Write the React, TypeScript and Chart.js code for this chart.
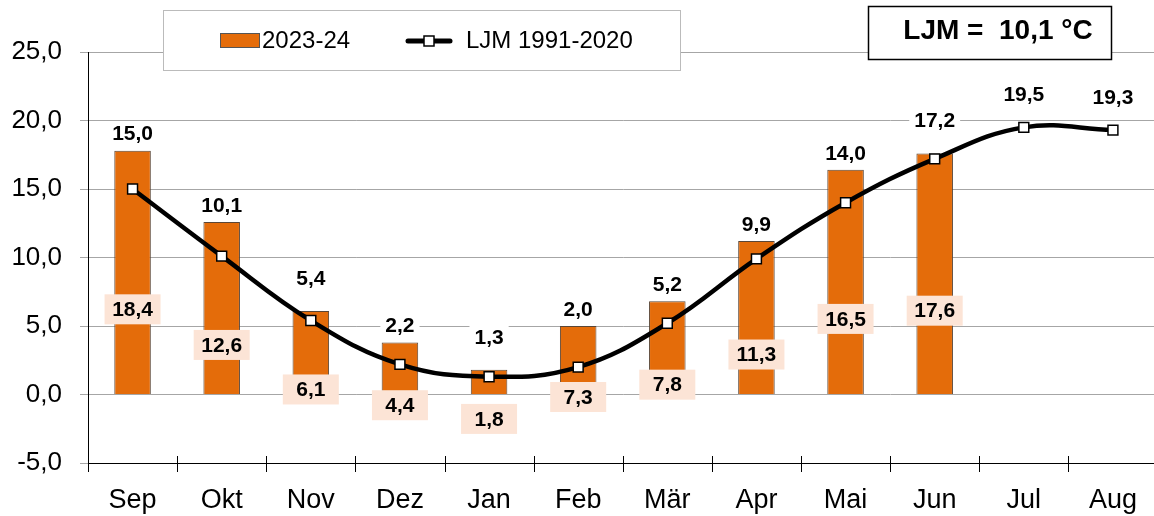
import React, { useEffect, useRef } from 'react';
import { Chart, registerables } from 'chart.js';

Chart.register(...registerables);

const months = ['Sep', 'Okt', 'Nov', 'Dez', 'Jan', 'Feb', 'Mär', 'Apr', 'Mai', 'Jun', 'Jul', 'Aug'];
const barValues: (number | null)[] = [17.8, 12.6, 6.1, 3.8, 1.8, 5.0, 6.8, 11.2, 16.4, 17.6, null, null];
const barLabelTexts = ['18,4', '12,6', '6,1', '4,4', '1,8', '7,3', '7,8', '11,3', '16,5', '17,6', '', ''];
const normalValues = [15.0, 10.1, 5.4, 2.2, 1.3, 2.0, 5.2, 9.9, 14.0, 17.2, 19.5, 19.3];
const yMin = -5;
const yMax = 25;
const yStep = 5;
const legendLabels = ['2023-24', 'LJM 1991-2020'];
const meanText = 'LJM =  10,1 °C';

const ORANGE = '#E46C0A';
const PEACH = '#FCE4D6';
const GRID = '#A6A6A6';
const FONT = '"Liberation Sans", Arial, sans-serif';

const fmt = (v: number) => v.toFixed(1).replace('.', ',');

const overlay = {
  id: 'overlay',
  afterDatasetsDraw(chart: any) {
    const ctx = chart.ctx;
    const xs = chart.scales.x;
    const area = chart.chartArea;
    ctx.save();
    ctx.strokeStyle = '#000';
    ctx.lineWidth = 1;
    const step = xs.getPixelForValue(1) - xs.getPixelForValue(0);
    for (let i = 0; i <= months.length; i++) {
      const px = Math.round(xs.getPixelForValue(0) - step / 2 + i * step) + 0.5;
      ctx.beginPath();
      ctx.moveTo(px, area.bottom - 7);
      ctx.lineTo(px, area.bottom + 9);
      ctx.stroke();
    }

    const barMeta = chart.getDatasetMeta(0);
    const lineMeta = chart.getDatasetMeta(1);
    ctx.font = `bold 21px ${FONT}`;
    ctx.textAlign = 'center';
    ctx.textBaseline = 'middle';

    barMeta.data.forEach((el: any, i: number) => {
      if (barValues[i] == null) return;
      const mid = (el.y + el.base) / 2;
      const cy = mid + 37;
      const w = 56;
      const h = 30;
      ctx.fillStyle = PEACH;
      ctx.fillRect(el.x - w / 2, cy - h / 2, w, h);
      ctx.fillStyle = '#000';
      ctx.fillText(barLabelTexts[i], el.x, cy + 1);
    });

    lineMeta.data.forEach((pt: any, i: number) => {
      let topPx = pt.y;
      let off = 33;
      if (barValues[i] != null) {
        const by = barMeta.data[i].y;
        topPx = Math.min(by, pt.y);
        off = pt.y - by < 15 ? 33 : 17;
      }
      const cy = topPx - off;
      const t = fmt(normalValues[i]);
      const w = ctx.measureText(t).width + 10;
      ctx.fillStyle = '#fff';
      ctx.fillRect(pt.x - w / 2, cy - 12, w, 24);
      ctx.fillStyle = '#000';
      ctx.fillText(t, pt.x, cy + 1);
    });
    ctx.restore();
  },
  afterDraw(chart: any) {
    const ctx = chart.ctx;
    ctx.save();
    ctx.fillStyle = '#fff';
    ctx.fillRect(163, 10, 517, 60);
    ctx.strokeStyle = '#BBBBBB';
    ctx.lineWidth = 1;
    ctx.strokeRect(163.5, 10.5, 517, 60);
    ctx.fillStyle = ORANGE;
    ctx.fillRect(220, 33, 39, 14);
    ctx.strokeStyle = '#555';
    ctx.strokeRect(220.5, 33.5, 39, 14);
    ctx.font = `24px ${FONT}`;
    ctx.textAlign = 'left';
    ctx.textBaseline = 'middle';
    ctx.fillStyle = '#000';
    ctx.fillText(legendLabels[0], 262, 41);
    ctx.strokeStyle = '#000';
    ctx.lineWidth = 5;
    ctx.lineCap = 'round';
    ctx.beginPath();
    ctx.moveTo(408, 41);
    ctx.lineTo(450, 41);
    ctx.stroke();
    ctx.lineCap = 'butt';
    ctx.fillStyle = '#fff';
    ctx.fillRect(424, 36, 10, 10);
    ctx.lineWidth = 1.5;
    ctx.strokeRect(424, 36, 10, 10);
    ctx.fillStyle = '#000';
    ctx.fillText(legendLabels[1], 466, 41);

    ctx.fillStyle = '#fff';
    ctx.fillRect(868, 6, 243, 53);
    ctx.strokeStyle = '#000';
    ctx.lineWidth = 1.5;
    ctx.strokeRect(868.5, 6.5, 243, 53);
    ctx.font = `bold 28px ${FONT}`;
    ctx.textAlign = 'center';
    ctx.fillStyle = '#000';
    ctx.fillText(meanText, 998, 31);
    ctx.restore();
  },
};

export default function App() {
  const ref = useRef<HTMLCanvasElement>(null);
  useEffect(() => {
    if (!ref.current) return;
    const chart = new Chart(ref.current, {
      type: 'bar',
      data: {
        labels: months,
        datasets: [
          {
            type: 'bar',
            label: legendLabels[0],
            data: barValues,
            backgroundColor: ORANGE,
            borderColor: '#5A4636',
            borderWidth: 1,
            barPercentage: 0.41,
            categoryPercentage: 1,
            order: 2,
          } as any,
          {
            type: 'line',
            label: legendLabels[1],
            data: normalValues,
            borderColor: '#000',
            borderWidth: 4.5,
            tension: 0.4,
            pointStyle: 'rect',
            pointRadius: 7,
            pointBackgroundColor: '#fff',
            pointBorderColor: '#000',
            pointBorderWidth: 1.5,
            order: 1,
          } as any,
        ],
      },
      options: {
        animation: false,
        responsive: false,
        maintainAspectRatio: false,
        devicePixelRatio: 1,
        layout: { padding: { top: 52, right: 1, left: 0, bottom: 0 } },
        plugins: { legend: { display: false }, tooltip: { enabled: false } },
        scales: {
          x: {
            grid: { display: false },
            border: { display: true, color: '#000', width: 1 },
            ticks: { color: '#000', font: { family: FONT, size: 27 }, padding: 13 },
            afterFit: (s: any) => { s.height = 53; },
          },
          y: {
            min: yMin,
            max: yMax,
            grid: { color: GRID, tickLength: 8, tickColor: GRID },
            border: { display: true, color: '#000', width: 1 },
            ticks: {
              stepSize: yStep,
              color: '#000',
              font: { family: FONT, size: 26 },
              padding: 18,
              callback: (v: any) => fmt(Number(v)),
            },
            afterFit: (s: any) => { s.width = 88; },
          },
        },
      },
      plugins: [overlay],
    });
    return () => chart.destroy();
  }, []);
  return (
    <div style={{ position: 'fixed', left: 0, top: 0, width: 1166, height: 516, background: '#fff' }}>
      <canvas ref={ref} width={1166} height={516} />
    </div>
  );
}
